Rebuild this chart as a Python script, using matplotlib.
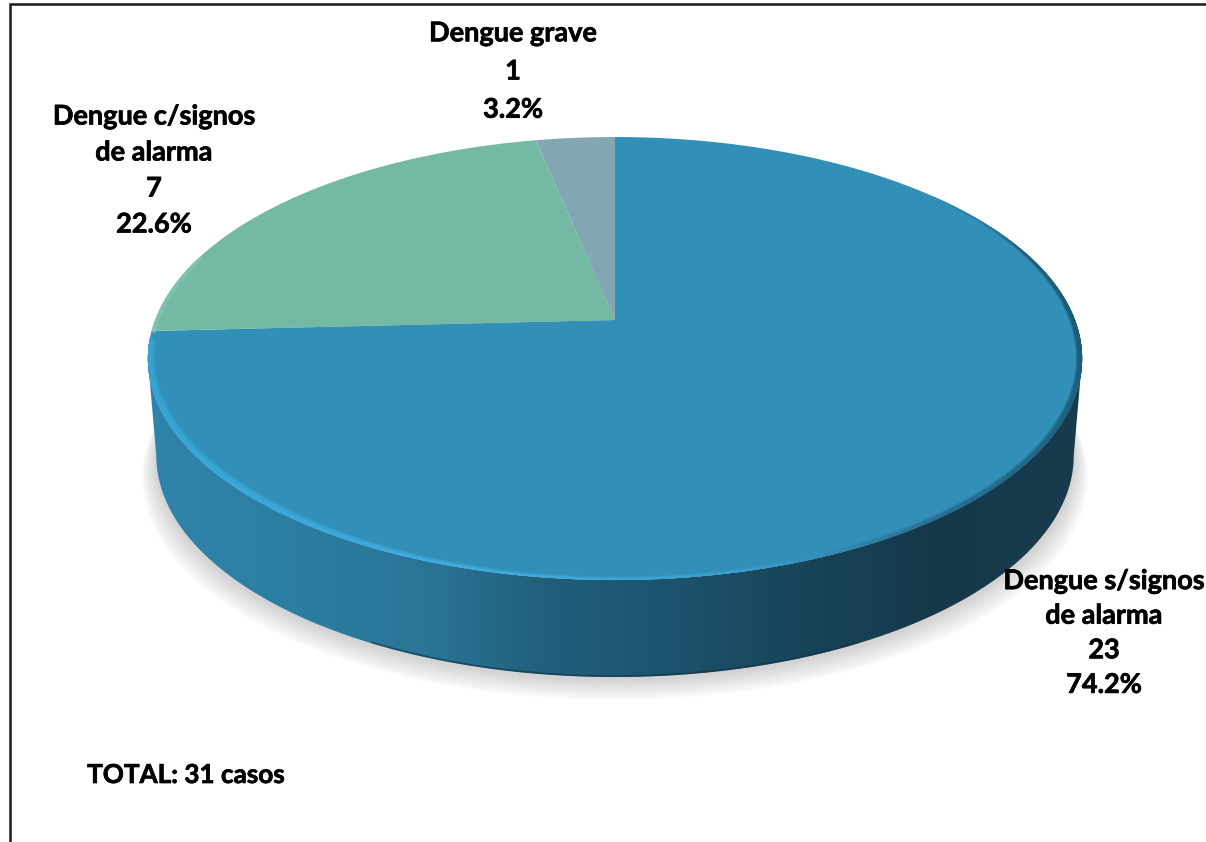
import numpy as np
import matplotlib
matplotlib.use('Agg')
import matplotlib.pyplot as plt
import matplotlib.patheffects as pe
from matplotlib.patches import Polygon
from matplotlib.collections import LineCollection
from matplotlib.colors import LinearSegmentedColormap, to_rgb

categories = ['Dengue s/signos\nde alarma', 'Dengue c/signos\nde alarma', 'Dengue grave']
cases = [23, 7, 1]
percent_labels = ['74.2%', '22.6%', '3.2%']
total_label = 'TOTAL: 31 casos'

colors = ['#3290b8', '#74b9a4', '#82a6b2']
label_pos = [(1104, 633), (154, 170.5), (513, 71.5)]
label_spacing = [1.53, 1.6, 1.71]

# perspective of the disc, in pixels
cx, cy = 615, 320
A, B, k = 460, 214.8, 0.174
depth = 97
shrink = 0.982

plt.rcParams['font.family'] = ['Lato', 'DejaVu Sans']

fig = plt.figure(figsize=(12.06, 8.42), dpi=100)
ax = fig.add_axes([0, 0, 1, 1])
ax.set_xlim(0, 1206)
ax.set_ylim(842, 0)
ax.axis('off')


def project(theta, r=1.0, drop=0.0, scale=1.0):
    # theta runs clockwise from twelve o'clock
    u = r * np.sin(theta)
    v = r * np.cos(theta)
    s = 1 / (1 + k * v)
    return cx + A * scale * u * s, cy - B * v * s + drop


def sector(start, end):
    theta = np.linspace(start, end, 200)
    x, y = project(theta)
    return np.column_stack([np.r_[cx, x], np.r_[cy, y]])


all_theta = np.linspace(0, 2 * np.pi, 500)

# soft shadow under the disc
for i in range(14):
    grow = 1 + (14 - i) * 0.0022
    sx, sy = project(all_theta, drop=depth + 2 + (14 - i) * 1.5, scale=shrink * grow)
    ax.add_patch(Polygon(np.column_stack([sx, sy]), fc='#8a8a8a', ec='none', alpha=0.028, zorder=1))

# side wall: widest points of the top rim joined to the bottom rim, with a horizontal gradient
widest = np.pi / 2 + np.arcsin(k)
front = np.linspace(widest, 2 * np.pi - widest, 300)
x_top, y_top = project(front)
x_bot, y_bot = project(front, drop=depth, scale=shrink)
wall = Polygon(np.column_stack([np.r_[x_bot, x_top[::-1]], np.r_[y_bot, y_top[::-1]]]),
               fc='none', ec='none', zorder=2)
ax.add_patch(wall)
wall_cmap = LinearSegmentedColormap.from_list('wall', [
    (0.00, '#2f84ab'), (0.18, '#2c7ca0'), (0.30, '#2a7596'), (0.42, '#225f7d'),
    (0.55, '#1c5470'), (0.70, '#184559'), (0.85, '#16384a'), (1.00, '#183c4e')])
grad = ax.imshow(np.linspace(0, 1, 512)[None, :], cmap=wall_cmap, aspect='auto',
                 extent=(148, 1082, 700, 300), zorder=2.1)
grad.set_clip_path(wall)
ax.set_xlim(0, 1206)
ax.set_ylim(842, 0)

# dark thin line at the foot of the wall
fx, fy = project(np.linspace(np.pi * 0.85, np.pi * 1.15, 100), drop=depth, scale=shrink)
ax.plot(fx, fy - 1, color='#123244', lw=1.2, alpha=0.6, zorder=2.2)

# top faces, blue slice starts at twelve o'clock and runs clockwise
fractions = np.array(cases) / np.sum(cases)
edges = np.r_[0, np.cumsum(fractions)] * 2 * np.pi
for i in range(len(cases)):
    ax.add_patch(Polygon(sector(edges[i], edges[i + 1]), fc=colors[i], ec='none', zorder=3))

# bevel on the rim of the big slice: bright on the left, dark on the right
top_x, top_y = project(all_theta)
disc = Polygon(np.column_stack([top_x, top_y]), fc='none', ec='none', zorder=3)
ax.add_patch(disc)
turn = 2 * np.pi
rim_at = np.array([0.14, 0.20, 0.26, 0.32, 0.40, 0.46, 0.53, 0.62, 0.735]) * turn
rim_cols = ['#3290b8', '#1f5f7c', '#1c5a76', '#1f6280', '#286f90', '#3a9fc9', '#43aee0', '#3ba8d8', '#37a2d0']
rim_w = [1, 3, 5, 5, 4, 3, 3, 7, 6]
rim_theta = np.linspace(rim_at[0], rim_at[-1], 500)
rim_rgb = np.array([np.interp(rim_theta, rim_at, [to_rgb(c)[j] for c in rim_cols]) for j in range(3)]).T
rim_lw = np.interp(rim_theta, rim_at, rim_w)
for lw_scale, alpha in [(1.5, 0.2), (1.0, 0.35), (0.6, 0.7)]:
    rx, ry = project(rim_theta, r=0.998)
    pts = np.column_stack([rx, ry]).reshape(-1, 1, 2)
    segs = np.concatenate([pts[:-1], pts[1:]], axis=1)
    rim = LineCollection(segs, colors=rim_rgb[:-1], linewidths=rim_lw[:-1] * lw_scale, alpha=alpha, zorder=4,
                         capstyle='round')
    ax.add_collection(rim)
    rim.set_clip_path(disc)

# lighter edge of the green slice
tx, ty = project(np.linspace(edges[1], edges[1] + 0.35, 60), r=0.995)
ax.plot(tx, ty, color='#7fcab6', lw=3, alpha=0.6, zorder=4)

# labels, thin stroke because the reference type is heavier
heavy = [pe.withStroke(linewidth=0.5, foreground='black')]
for name, n, pct, (lx, ly), sp in zip(categories, cases, percent_labels, label_pos, label_spacing):
    ax.text(lx, ly, f'{name}\n{n}\n{pct}', ha='center', va='center', fontsize=19.5, fontweight='bold',
            color='black', linespacing=sp, zorder=6, path_effects=heavy)
ax.text(186, 775, total_label, ha='center', va='center', fontsize=18.8, fontweight='bold', color='black',
        zorder=6, path_effects=heavy)

# chart frame
ax.plot([9.5, 9.5, 1206], [842, 4, 4], color='#1a1a1a', lw=1.8, zorder=5, solid_joinstyle='miter')

fig.savefig('out.png', dpi=100, facecolor='white')
